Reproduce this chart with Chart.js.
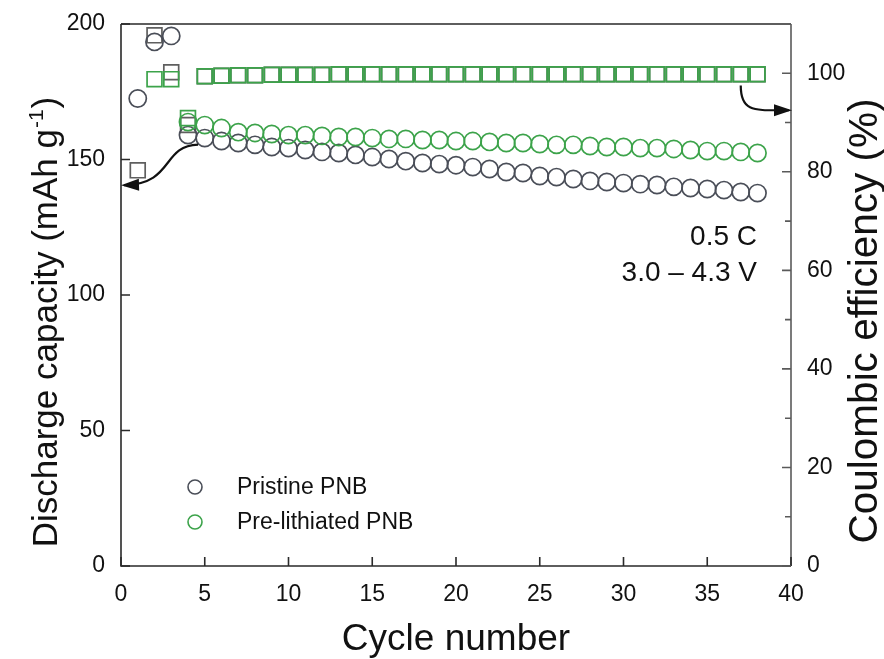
<!DOCTYPE html>
<html>
<head>
<meta charset="utf-8">
<script src="https://cdn.jsdelivr.net/npm/chart.js@4/dist/chart.umd.min.js"></script>
<style>
  html, body { margin: 0; padding: 0; background: #fff; }
  #wrap { width: 884px; height: 659px; }
  canvas { display: block; }
</style>
</head>
<body>
<div id="wrap"><canvas id="c" width="884" height="659"></canvas></div>
<script>
// Cycle index
const cycles = [1, 2, 3, 4, 5, 6, 7, 8, 9, 10, 11, 12, 13, 14, 15, 16, 17, 18, 19, 20,
                21, 22, 23, 24, 25, 26, 27, 28, 29, 30, 31, 32, 33, 34, 35, 36, 37, 38];

// Discharge capacity (mAh g-1)
const pristineCapacity = [172.5, 193.4, 195.6, 159.0, 157.9, 156.8, 156.1, 155.4, 154.6, 154.2,
                          153.5, 152.8, 152.4, 151.7, 150.9, 150.2, 149.4, 148.7, 148.3, 147.9,
                          147.2, 146.5, 145.4, 145.0, 143.9, 143.5, 142.8, 142.1, 141.7, 141.3,
                          140.9, 140.6, 139.9, 139.5, 139.1, 138.7, 138.0, 137.6];
const prelithCapacity = [null, null, null, 163.8, 162.7, 161.6, 160.1, 159.8, 159.4, 159.0,
                         159.0, 158.7, 158.3, 158.3, 157.9, 157.6, 157.6, 157.2, 157.2, 156.8,
                         156.8, 156.5, 156.1, 156.1, 155.7, 155.4, 155.4, 155.0, 154.6, 154.6,
                         154.2, 154.2, 153.9, 153.5, 153.1, 153.1, 152.8, 152.4];

// Coulombic efficiency (%)
const pristineCE = [80.3, 107.7, 100.2, 89.5, 99.4, 99.5, 99.6, 99.6, 99.7, 99.7,
                    99.7, 99.7, 99.8, 99.8, 99.8, 99.8, 99.8, 99.8, 99.8, 99.8,
                    99.8, 99.8, 99.8, 99.8, 99.8, 99.8, 99.8, 99.8, 99.8, 99.8,
                    99.8, 99.8, 99.8, 99.8, 99.8, 99.8, 99.8, 99.8];
const prelithCE = [null, 98.8, 98.8, 90.9, 99.4, 99.5, 99.6, 99.6, 99.7, 99.7,
                   99.7, 99.7, 99.8, 99.8, 99.8, 99.8, 99.8, 99.8, 99.8, 99.8,
                   99.8, 99.8, 99.8, 99.8, 99.8, 99.8, 99.8, 99.8, 99.8, 99.8,
                   99.8, 99.8, 99.8, 99.8, 99.8, 99.8, 99.8, 99.8];

// Axis ticks
const xTicks = [0, 5, 10, 15, 20, 25, 30, 35, 40];
const capacityTicks = [0, 50, 100, 150, 200];
const ceTicks = [0, 20, 40, 60, 80, 100];
const ceMinorTicks = [10, 30, 50, 70, 90];

const seriesNames = ['Pristine PNB', 'Pre-lithiated PNB'];
const conditionText = ['0.5 C', '3.0 \u2013 4.3 V'];

const GRAY = '#4a4e58';
const GREEN = '#3ca34a';
const FONT = '"Liberation Sans", Arial, sans-serif';

const pts = (ys) => cycles.map((c, i) => ({ x: c, y: ys[i] }));

// Box frame and inward ticks
const framePlugin = {
  id: 'frame',
  afterDraw(chart) {
    const { ctx, chartArea: a, scales } = chart;
    ctx.save();
    ctx.lineWidth = 1.6;
    ctx.strokeStyle = '#2a2a2a';
    ctx.beginPath();
    ctx.moveTo(a.left, a.top); ctx.lineTo(a.left, a.bottom); ctx.lineTo(a.right, a.bottom);
    ctx.moveTo(a.left, a.top); ctx.lineTo(a.right, a.top);
    ctx.stroke();
    ctx.strokeStyle = '#5a5a5a';
    ctx.beginPath();
    ctx.moveTo(a.right, a.top); ctx.lineTo(a.right, a.bottom);
    ctx.stroke();

    ctx.strokeStyle = '#2a2a2a';
    ctx.beginPath();
    xTicks.forEach(v => {
      const px = scales.x.getPixelForValue(v);
      ctx.moveTo(px, a.bottom); ctx.lineTo(px, a.bottom - 9);
    });
    capacityTicks.forEach(v => {
      const py = scales.y.getPixelForValue(v);
      ctx.moveTo(a.left, py); ctx.lineTo(a.left + 9, py);
    });
    ctx.stroke();
    ctx.strokeStyle = '#5a5a5a';
    ctx.beginPath();
    ceTicks.forEach(v => {
      const py = scales.y2.getPixelForValue(v);
      ctx.moveTo(a.right, py); ctx.lineTo(a.right - 9, py);
    });
    ceMinorTicks.forEach(v => {
      const py = scales.y2.getPixelForValue(v);
      ctx.moveTo(a.right, py); ctx.lineTo(a.right - 6, py);
    });
    ctx.stroke();
    ctx.restore();
  }
};

function arrow(ctx, p0, c1, c2, p3) {
  ctx.beginPath();
  ctx.moveTo(p0[0], p0[1]);
  ctx.bezierCurveTo(c1[0], c1[1], c2[0], c2[1], p3[0], p3[1]);
  ctx.stroke();
  const ang = Math.atan2(p3[1] - c2[1], p3[0] - c2[0]);
  const L = 15, W = 6;
  ctx.beginPath();
  ctx.moveTo(p3[0] + Math.cos(ang) * 3, p3[1] + Math.sin(ang) * 3);
  ctx.lineTo(p3[0] - Math.cos(ang) * L - Math.sin(ang) * W, p3[1] - Math.sin(ang) * L + Math.cos(ang) * W);
  ctx.lineTo(p3[0] - Math.cos(ang) * L + Math.sin(ang) * W, p3[1] - Math.sin(ang) * L - Math.cos(ang) * W);
  ctx.closePath();
  ctx.fill();
}

// Axis titles, legend, condition text and axis-pointer arrows
const decorPlugin = {
  id: 'decor',
  afterDraw(chart) {
    const { ctx, chartArea: a, scales } = chart;
    const X = v => scales.x.getPixelForValue(v);
    const Y = v => scales.y.getPixelForValue(v);
    const Y2 = v => scales.y2.getPixelForValue(v);
    ctx.save();
    ctx.fillStyle = '#111';

    // x title
    ctx.font = '37px ' + FONT;
    ctx.textAlign = 'center';
    ctx.textBaseline = 'alphabetic';
    ctx.fillText('Cycle number', (a.left + a.right) / 2, 650);

    // left title with superscript
    ctx.save();
    ctx.translate(57, 323);
    ctx.rotate(-Math.PI / 2);
    const main = 'Discharge capacity (mAh g';
    const sup = '-1';
    const close = ')';
    ctx.font = '35px ' + FONT;
    const wMain = ctx.measureText(main).width;
    const wClose = ctx.measureText(close).width;
    ctx.font = '21px ' + FONT;
    const wSup = ctx.measureText(sup).width;
    let x0 = -(wMain + wSup + wClose) / 2;
    ctx.textAlign = 'left';
    ctx.font = '35px ' + FONT;
    ctx.fillText(main, x0, 0);
    ctx.font = '21px ' + FONT;
    ctx.fillText(sup, x0 + wMain + 1, -14);
    ctx.font = '35px ' + FONT;
    ctx.fillText(close, x0 + wMain + wSup + 2, 0);
    ctx.restore();

    // right title
    ctx.save();
    ctx.translate(877, 321);
    ctx.rotate(-Math.PI / 2);
    ctx.font = '40.5px ' + FONT;
    ctx.textAlign = 'center';
    ctx.fillText('Coulombic efficiency (%)', 0, 0);
    ctx.restore();

    // condition text
    ctx.font = '28px ' + FONT;
    ctx.textAlign = 'right';
    ctx.textBaseline = 'middle';
    ctx.fillStyle = '#111';
    ctx.fillText(conditionText[0], 757, 237);
    ctx.fillText(conditionText[1], 757, 273);

    // legend
    ctx.textAlign = 'left';
    ctx.font = '23px ' + FONT;
    [[GRAY, seriesNames[0], 487], [GREEN, seriesNames[1], 522]].forEach(([col, name, y]) => {
      ctx.strokeStyle = col;
      ctx.lineWidth = 1.6;
      ctx.beginPath();
      ctx.arc(195, y, 7, 0, Math.PI * 2);
      ctx.stroke();
      ctx.fillStyle = '#111';
      ctx.fillText(name, 237, y + 1);
    });

    // arrows pointing to the relevant axes
    ctx.strokeStyle = '#111';
    ctx.fillStyle = '#111';
    ctx.lineWidth = 2.2;
    arrow(ctx,
      [X(4.6), Y(155.5)],
      [X(2.4), Y(155)],
      [X(3.2), Y(141)],
      [a.left + 3, Y(140.5)]);
    arrow(ctx,
      [X(37), Y2(97.5)],
      [X(37), Y2(92)],
      [X(37.8), Y2(92.5)],
      [a.right - 2, Y2(92.5)]);
    ctx.restore();
  }
};

const commonDs = { showLine: false, borderWidth: 1.7, backgroundColor: 'rgba(0,0,0,0)' };

// vertical scales: let the layout padding alone decide the top edge of the plot
const noLabelPadding = s => { s.paddingTop = 0; s.paddingBottom = 0; };

new Chart(document.getElementById('c'), {
  type: 'scatter',
  data: {
    datasets: [
      { ...commonDs, label: 'CE ' + seriesNames[1], data: pts(prelithCE), yAxisID: 'y2',
        pointStyle: 'rect', pointRadius: 10.5, borderColor: GREEN, order: 0 },
      { ...commonDs, label: seriesNames[1], data: pts(prelithCapacity), yAxisID: 'y',
        pointStyle: 'circle', pointRadius: 8.6, borderColor: GREEN, order: 1 },
      { ...commonDs, label: seriesNames[0], data: pts(pristineCapacity), yAxisID: 'y',
        pointStyle: 'circle', pointRadius: 8.6, borderColor: GRAY, order: 2 },
      { ...commonDs, label: 'CE ' + seriesNames[0], data: pts(pristineCE), yAxisID: 'y2',
        pointStyle: 'rect', pointRadius: 10.5, borderColor: '#5f5f5f', order: 3 }
    ]
  },
  options: {
    responsive: false,
    animation: false,
    devicePixelRatio: 1,
    layout: { padding: { top: 24, left: 0, right: 0, bottom: 0 } },
    plugins: { legend: { display: false }, tooltip: { enabled: false } },
    elements: { point: { hoverRadius: 8 } },
    scales: {
      x: {
        type: 'linear', position: 'bottom', min: 0, max: 40,
        afterBuildTicks: s => { s.ticks = xTicks.map(v => ({ value: v })); },
        afterFit: s => { s.height = 93; s.paddingLeft = 0; s.paddingRight = 0; },
        grid: { display: false, drawTicks: false },
        border: { display: false },
        ticks: { font: { family: FONT, size: 23 }, color: '#111', padding: 15, maxRotation: 0 }
      },
      y: {
        type: 'linear', position: 'left', min: 0, max: 200,
        afterBuildTicks: s => { s.ticks = capacityTicks.map(v => ({ value: v })); },
        afterFit: s => { s.width = 121; noLabelPadding(s); },
        grid: { display: false, drawTicks: false },
        border: { display: false },
        ticks: { font: { family: FONT, size: 23 }, color: '#111', padding: 16 }
      },
      y2: {
        type: 'linear', position: 'right', min: 0, max: 110,
        afterBuildTicks: s => { s.ticks = ceTicks.map(v => ({ value: v })); },
        afterFit: s => { s.width = 93; noLabelPadding(s); },
        grid: { display: false, drawTicks: false },
        border: { display: false },
        ticks: { font: { family: FONT, size: 23 }, color: '#111', padding: 16 }
      }
    }
  },
  plugins: [framePlugin, decorPlugin]
});
</script>
</body>
</html>
